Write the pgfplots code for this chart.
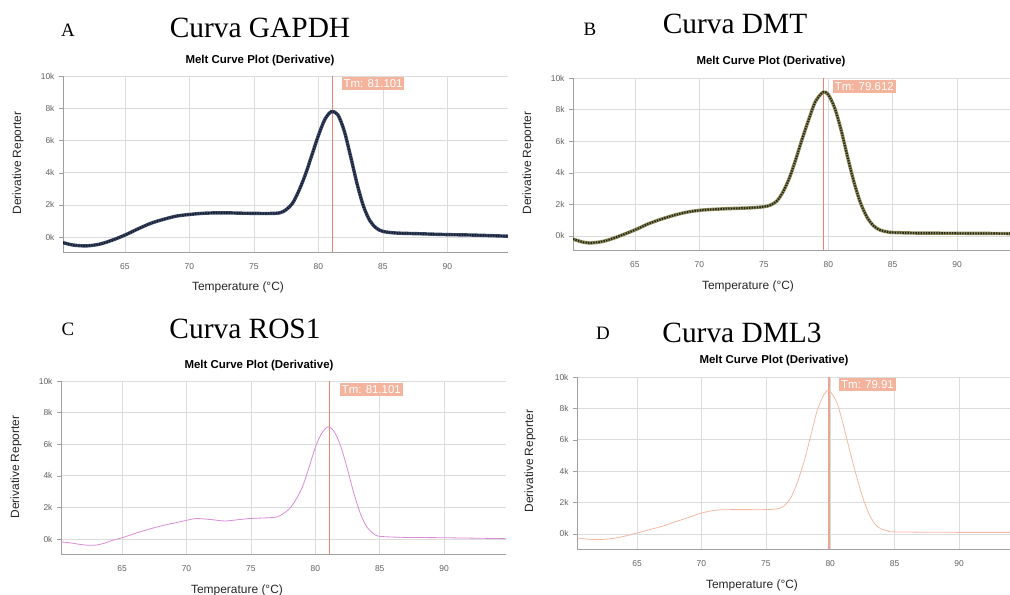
\documentclass[border=0pt]{standalone}
\usepackage{pgfplots}
\pgfplotsset{compat=1.18}
\usepackage{fontspec}
\setmainfont{Liberation Sans}
\newfontfamily\seriffont{Liberation Serif}
\definecolor{gridgray}{HTML}{DCDCDC}
\definecolor{axisgray}{HTML}{A0A0A0}
\definecolor{tickgray}{HTML}{606060}
\definecolor{tmfill}{HTML}{F4B39D}
\definecolor{tmline}{HTML}{EA8270}
\definecolor{tmlineD}{HTML}{EBA593}
\definecolor{navyA}{HTML}{3A4866}
\definecolor{navyB}{HTML}{151A2A}
\definecolor{oliveA}{HTML}{8A8856}
\definecolor{oliveB}{HTML}{23231A}
\definecolor{rosC}{HTML}{D98BD6}
\definecolor{dmlD}{HTML}{F2B9A4}

\pgfplotstableread{
x y
60.2 -0.35
61 -0.5
62 -0.55
63 -0.45
64 -0.2
65 0.12
66 0.5
67 0.85
68 1.1
69 1.3
70 1.4
71 1.47
72 1.5
73 1.5
74 1.48
75 1.47
76 1.46
77 1.5
77.5 1.7
78 2.1
78.5 2.9
79 3.9
79.5 5.1
80 6.3
80.5 7.3
81 7.78
81.5 7.6
82 6.6
82.5 5.0
83 3.3
83.5 1.9
84 1.0
84.5 0.55
85 0.35
86 0.25
88 0.2
90 0.15
92 0.12
94.7 0.05
}\gapdh

\pgfplotstableread{
x y
60.2 -0.2
61 -0.4
61.5 -0.45
62.5 -0.35
63.5 -0.1
65 0.38
66 0.75
67 1.05
68 1.3
69 1.5
70 1.62
71 1.68
72 1.72
73 1.75
74 1.78
75 1.85
75.5 1.95
76 2.2
76.5 2.8
77 3.7
77.5 4.9
78 6.2
78.5 7.4
79 8.5
79.6 9.1
80 8.95
80.5 8.1
81 6.7
81.5 5.0
82 3.4
82.5 2.1
83 1.2
83.5 0.65
84 0.38
84.5 0.27
85 0.22
87 0.18
90 0.17
94.1 0.15
}\dmt

\pgfplotstableread{
x y
60.3 -0.19
61 -0.25
62 -0.37
62.8 -0.4
63.5 -0.3
64.2 -0.1
65 0.08
66 0.35
67 0.6
68 0.82
69 1.0
70 1.18
70.5 1.27
71 1.29
72 1.22
73 1.14
74 1.22
75 1.3
76 1.33
77 1.39
77.5 1.6
78 1.92
78.5 2.5
79 3.3
79.5 4.5
80 5.8
80.5 6.7
81 7.1
81.5 6.75
82 5.8
82.5 4.4
83 2.87
83.5 1.6
84 0.76
84.5 0.35
85 0.17
87 0.1
90 0.08
94.8 0.02
}\rosone

\pgfplotstableread{
x y
60.34 -0.25
61 -0.32
62 -0.36
63 -0.3
64 -0.15
65 0.06
66 0.28
67 0.5
68 0.78
69 1.05
70 1.33
71 1.5
71.5 1.54
73 1.55
75 1.55
76 1.62
76.5 1.85
77 2.4
77.5 3.4
78 4.7
78.5 6.3
79 7.9
79.5 8.85
79.9 9.15
80.5 8.4
81 7.0
81.5 5.35
82 3.8
82.5 2.39
83 1.3
83.5 0.6
84 0.3
84.5 0.2
85 0.13
90 0.1
93.96 0.1
}\dmlthree

\pgfplotsset{
  melt/.style={
    scale only axis,
    anchor=south west,
    axis x line=bottom,
    axis y line=left,
    axis line style={draw=axisgray, -},
    xtick={65,70,75,80,85,90},
    ytick={0,2,4,6,8,10},
    yticklabels={0k,2k,4k,6k,8k,10k},
    ymax=10,
    grid=major,
    major grid style={draw=gridgray, line width=0.6bp},
    tick align=outside,
    major tick length=4bp,
    xtick style={draw=none},
    ytick style={draw=axisgray},
    /pgf/number format/assume math mode=true,
    tick label style={font=\fontsize{8.5}{9}\selectfont, text=tickgray},
    xticklabel style={yshift=-4bp},
    yticklabel style={xshift=-1bp},
  },
}
\tikzset{
  tmbox/.style={fill=tmfill, text=white, anchor=north west,
    font=\fontsize{11.5}{12}\selectfont, inner xsep=1.8bp, inner ysep=1.5bp,
    text height=8.6bp, text depth=1.2bp},
}

\begin{document}
\begin{tikzpicture}
\useasboundingbox (0,0) rectangle (1010bp,595bp);

% ---------- A ----------
\begin{axis}[melt, at={(63bp,343bp)}, width=445bp, height=176bp,
  xmin=60.2, xmax=94.7, ymin=-0.93]
\addplot[draw={rgb,255:red,234;green,130;blue,112}, line width=1.1bp, forget plot] coordinates {(81.101,-0.93) (81.101,10)};
\addplot[navyA, line width=3.4bp, smooth] table {\gapdh};
\addplot[navyB, line width=2bp, smooth, dash pattern=on 1.3bp off 1.3bp] table {\gapdh};
\node[tmbox] at (axis cs:81.8,9.95) {Tm: 81.101};
\end{axis}

% ---------- B ----------
\begin{axis}[melt, at={(573bp,345bp)}, width=437bp, height=172bp,
  xmin=60.2, xmax=94.1, ymin=-0.89]
\addplot[draw={rgb,255:red,234;green,130;blue,112}, line width=1.2bp, forget plot] coordinates {(79.65,-0.89) (79.65,10)};
\addplot[oliveA, line width=3.4bp, smooth] table {\dmt};
\addplot[oliveB, line width=2bp, smooth, dash pattern=on 1.3bp off 1.3bp] table {\dmt};
\node[tmbox] at (axis cs:80.35,9.87) {Tm: 79.612};
\end{axis}

% ---------- C ----------
\begin{axis}[melt, at={(61bp,41bp)}, width=445bp, height=173bp,
  xmin=60.26, xmax=94.8, ymin=-0.95]
\addplot[rosC, line width=0.8bp, smooth] table {\rosone};
\addplot[draw={rgb,255:red,234;green,130;blue,112}, line width=1.2bp, forget plot] coordinates {(81.12,-0.95) (81.12,10)};
\node[tmbox] at (axis cs:81.9,9.87) {Tm: 81.101};
\end{axis}

% ---------- D ----------
\begin{axis}[melt, at={(577bp,46bp)}, width=433bp, height=172bp,
  xmin=60.34, xmax=93.96, ymin=-0.96]
\addplot[draw=tmlineD, line width=1.5bp, forget plot] coordinates {(79.91,-0.96) (79.91,10)};
\addplot[dmlD, line width=0.8bp, smooth] table {\dmlthree};
\node[tmbox] at (axis cs:80.7,9.94) {Tm: 79.91};
\end{axis}

% ---------- texts ----------
\tikzset{panel/.style={font=\seriffont\fontsize{19}{20}\selectfont},
  curva/.style={font=\seriffont\fontsize{29.5}{30}\selectfont},
  melttitle/.style={font=\bfseries\fontsize{11.5}{12}\selectfont},
  axlabel/.style={font=\fontsize{12}{13}\selectfont, text=black!85}}

\node[panel] at (68bp,565bp) {A};
\node[curva] at (260bp,567bp) {Curva GAPDH};
\node[melttitle] at (260bp,534bp) {Melt Curve Plot (Derivative)};
\node[axlabel] at (238bp,308bp) {Temperature (°C)};
\node[axlabel, rotate=90] at (18bp,432bp) {Derivative Reporter};

\node[panel] at (590bp,566bp) {B};
\node[curva] at (735bp,571bp) {Curva DMT};
\node[melttitle] at (771bp,533bp) {Melt Curve Plot (Derivative)};
\node[axlabel] at (748bp,309bp) {Temperature (°C)};
\node[axlabel, rotate=90] at (528bp,432bp) {Derivative Reporter};

\node[panel] at (68bp,266bp) {C};
\node[curva] at (245bp,266bp) {Curva ROS1};
\node[melttitle] at (259bp,229bp) {Melt Curve Plot (Derivative)};
\node[axlabel] at (237bp,5bp) {Temperature (°C)};
\node[axlabel, rotate=90] at (16bp,128bp) {Derivative Reporter};

\node[panel] at (603bp,262bp) {D};
\node[curva] at (742bp,262bp) {Curva DML3};
\node[melttitle] at (774bp,234bp) {Melt Curve Plot (Derivative)};
\node[axlabel] at (752bp,10bp) {Temperature (°C)};
\node[axlabel, rotate=90] at (530bp,134bp) {Derivative Reporter};
\end{tikzpicture}
\end{document}
